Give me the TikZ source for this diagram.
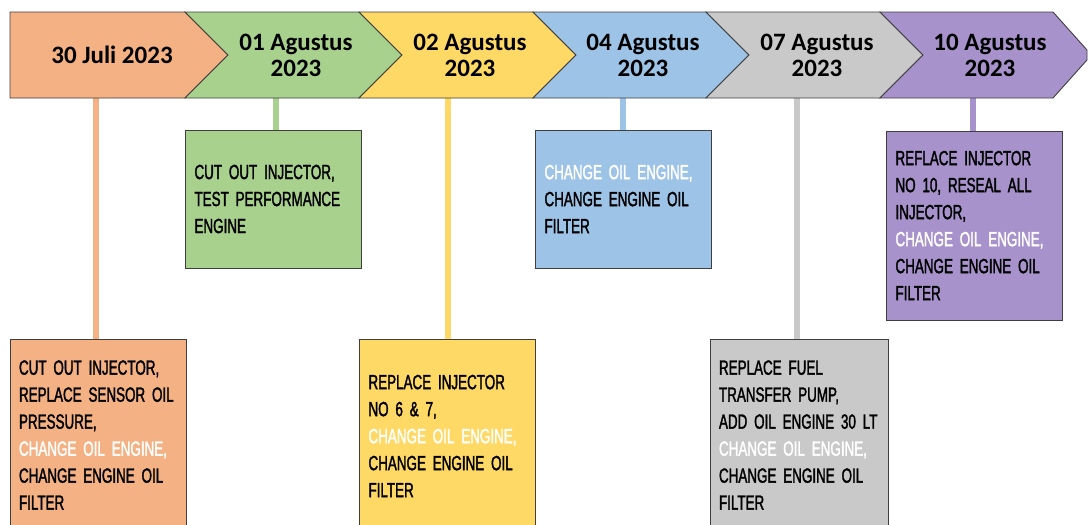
\documentclass[tikz,border=0pt]{standalone}
\usepackage{fontspec}
\setmainfont{Liberation Sans}
\newfontfamily\titlefont{Carlito}
\newfontfamily\boxfont[FakeStretch=0.655,FakeBold=1.6,WordSpace=0.7]{Liberation Sans}
\definecolor{cOr}{HTML}{F4B183}
\definecolor{cGr}{HTML}{A9D18E}
\definecolor{cYe}{HTML}{FFD966}
\definecolor{cBl}{HTML}{9DC3E6}
\definecolor{cGy}{HTML}{C9C9C9}
\definecolor{cPu}{HTML}{A792CC}
\definecolor{edge}{HTML}{3F3F3F}
\newcommand\wt[1]{\textcolor{white}{#1}}
\tikzset{
  chev/.style={draw=edge, line width=0.9pt, line join=miter},
  ttl/.style={align=center, font=\titlefont\bfseries\fontsize{25}{26}\selectfont, text=black, inner sep=0pt},
  taskbox/.style={draw=edge, line width=0.9pt, text width=158pt, inner xsep=9pt, inner ysep=0pt,
    minimum width=176pt, align=left, font=\boxfont\fontsize{20.5}{27}\selectfont, text=black},
  stem/.style={line width=6pt}
}
\begin{document}
\begin{tikzpicture}[x=1pt,y=-1pt]
\useasboundingbox (0,0) rectangle (1088,525);
% stem top coordinates
\coordinate (s1) at (96,98);
\coordinate (s2) at (276,98);
\coordinate (s3) at (448,98);
\coordinate (s4) at (623,98);
\coordinate (s5) at (797,98);
\coordinate (s6) at (973,98);
% boxes
\node[taskbox, fill=cOr, minimum height=192pt] (b1) at (98,435) {CUT OUT INJECTOR,\\REPLACE SENSOR OIL\\PRESSURE,\\\wt{CHANGE OIL ENGINE,}\\CHANGE ENGINE OIL\\FILTER};
\node[taskbox, fill=cGr, minimum height=138pt] (b2) at (273.5,199) {CUT OUT INJECTOR,\\TEST PERFORMANCE\\ENGINE};
\node[taskbox, fill=cYe, minimum height=194pt] (b3) at (447.5,436) {REPLACE INJECTOR\\NO 6 \& 7,\\\wt{CHANGE OIL ENGINE,}\\CHANGE ENGINE OIL\\FILTER};
\node[taskbox, fill=cBl, minimum height=138pt] (b4) at (623.5,199) {\wt{CHANGE OIL ENGINE,}\\CHANGE ENGINE OIL\\FILTER};
\node[taskbox, fill=cGy, minimum height=192pt, text width=160pt, minimum width=178pt] (b5) at (799,435) {REPLACE FUEL\\TRANSFER PUMP,\\\mbox{ADD OIL ENGINE 30 LT}\\\wt{CHANGE OIL ENGINE,}\\CHANGE ENGINE OIL\\FILTER};
\node[taskbox, fill=cPu, minimum height=189pt] (b6) at (974.5,225.5) {REFLACE INJECTOR\\NO 10, RESEAL ALL\\INJECTOR,\\\wt{CHANGE OIL ENGINE,}\\CHANGE ENGINE OIL\\FILTER};
% stems
\draw[stem, cOr] (s1) -- (s1 |- b1.north);
\draw[stem, cGr] (s2) -- (s2 |- b2.north);
\draw[stem, cYe] (s3) -- (s3 |- b3.north);
\draw[stem, cBl] (s4) -- (s4 |- b4.north);
\draw[stem, cGy] (s5) -- (s5 |- b5.north);
\draw[stem, cPu] (s6) -- (s6 |- b6.north);
% chevrons
\draw[chev, fill=cOr] (10,12) -- (185,12) -- (228,55) -- (185,98) -- (10,98) -- cycle;
\draw[chev, fill=cGr] (185,12) -- (359,12) -- (402,55) -- (359,98) -- (185,98) -- (228,55) -- cycle;
\draw[chev, fill=cYe] (359,12) -- (533,12) -- (576,55) -- (533,98) -- (359,98) -- (402,55) -- cycle;
\draw[chev, fill=cBl] (533,12) -- (706,12) -- (749,55) -- (706,98) -- (533,98) -- (576,55) -- cycle;
\draw[chev, fill=cGy] (706,12) -- (880,12) -- (923,55) -- (880,98) -- (706,98) -- (749,55) -- cycle;
\draw[chev, fill=cPu] (880,12) -- (1053,12) -- (1087,50) -- (1087,60) -- (1053,98) -- (880,98) -- (923,55) -- cycle;
% titles
\node[ttl] (t1) at (112,55) {30 Juli 2023};
\node[ttl] (t2) at (296,55) {01 Agustus\\2023};
\node[ttl] (t3) at (470,55) {02 Agustus\\2023};
\node[ttl] (t4) at (643,55) {04 Agustus\\2023};
\node[ttl] (t5) at (817,55) {07 Agustus\\2023};
\node[ttl] (t6) at (990,55) {10 Agustus\\2023};
\end{tikzpicture}
\end{document}
